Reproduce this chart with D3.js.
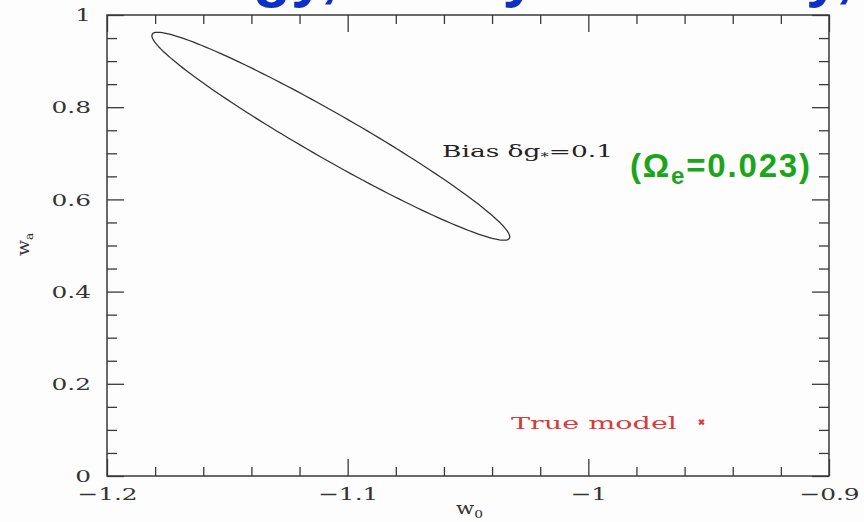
<!DOCTYPE html>
<html><head><meta charset="utf-8">
<script src="https://cdn.jsdelivr.net/npm/d3@7"></script>
<style>html,body{margin:0;padding:0;background:#fdfdfd;}svg{display:block;}</style>
</head><body>
<svg id="chart" width="864" height="522"></svg>
<script>
// ---- data ----
const xDomain = [-1.2, -0.9];
const yDomain = [0, 1];
const xMajorTicks = [-1.2, -1.1, -1.0, -0.9];
const xTickLabels = ["\u22121.2", "\u22121.1", "\u22121", "\u22120.9"];
const xMinorTicks = [-1.18,-1.16,-1.14,-1.12,-1.08,-1.06,-1.04,-1.02,-0.98,-0.96,-0.94,-0.92];
const yMajorTicks = [0, 0.2, 0.4, 0.6, 0.8, 1.0];
const yTickLabels = ["0", "0.2", "0.4", "0.6", "0.8", "1"];
const yMinorTicks = [0.05,0.1,0.15,0.25,0.3,0.35,0.45,0.5,0.55,0.65,0.7,0.75,0.85,0.9,0.95];
// confidence ellipse (Bias δg*=0.1): centre and half-axis vectors in data units
const ellipseCenter = [-1.107, 0.737];
const ellipseMajor = [0.0742, -0.2213];
const ellipseMinor = [-0.0047, -0.0433];
const trueModel = [-0.953, 0.117];
const titleWords = ["Cosmology,", "Theory", "Gravity,"];

// ---- drawing ----
const svg = d3.select("#chart");
const x = d3.scaleLinear().domain(xDomain).range([107, 829]);
const y = d3.scaleLinear().domain(yDomain).range([476, 15]);
const axisColor = "#3a3a3a";
const serif = "'DejaVu Serif', serif";

function widen(sel, f) {
  sel.each(function () {
    const n = this.getComputedTextLength();
    d3.select(this).attr("textLength", n * f).attr("lengthAdjust", "spacingAndGlyphs");
  });
}

// cut-off blue title at top (only descenders visible)
const titleX = [338, 537, 853];
svg.append("g").selectAll("text").data(titleWords).join("text")
  .attr("x", (d,i) => titleX[i]).attr("y", -5)
  .attr("text-anchor", "end")
  .attr("font-family", "'Liberation Sans', Arial, sans-serif")
  .attr("font-weight", "bold").attr("font-size", 62)
  .attr("fill", "#0d2fc4").text(d => d);

// frame
svg.append("rect").attr("x", x(xDomain[0])).attr("y", y(yDomain[1]))
  .attr("width", x(xDomain[1]) - x(xDomain[0])).attr("height", y(yDomain[0]) - y(yDomain[1]))
  .attr("fill", "none").attr("stroke", axisColor).attr("stroke-width", 1.5);

function styleAxis(g) {
  g.select(".domain").remove();
  g.selectAll(".tick line").attr("stroke", axisColor).attr("stroke-width", 1.3);
  g.selectAll(".tick text").attr("font-family", serif).attr("font-size", 17.5).attr("fill", "#333")
    .call(widen, 1.42);
}
const xFmt = (d) => xTickLabels[xMajorTicks.indexOf(d)];
const yFmt = (d) => yTickLabels[yMajorTicks.indexOf(d)];

svg.append("g").attr("transform", `translate(0,${y(0)})`)
  .call(d3.axisBottom(x).tickValues(xMajorTicks).tickFormat(xFmt).tickSize(-17).tickPadding(12)).call(styleAxis);
svg.append("g").attr("transform", `translate(0,${y(0)})`)
  .call(d3.axisBottom(x).tickValues(xMinorTicks).tickFormat("").tickSize(-9)).call(styleAxis);
svg.append("g").attr("transform", `translate(0,${y(1)})`)
  .call(d3.axisTop(x).tickValues(xMajorTicks).tickFormat("").tickSize(-17)).call(styleAxis);
svg.append("g").attr("transform", `translate(0,${y(1)})`)
  .call(d3.axisTop(x).tickValues(xMinorTicks).tickFormat("").tickSize(-9)).call(styleAxis);

svg.append("g").attr("transform", `translate(${x(-1.2)},0)`)
  .call(d3.axisLeft(y).tickValues(yMajorTicks).tickFormat(yFmt).tickSize(-17).tickPadding(16)).call(styleAxis);
svg.append("g").attr("transform", `translate(${x(-1.2)},0)`)
  .call(d3.axisLeft(y).tickValues(yMinorTicks).tickFormat("").tickSize(-10)).call(styleAxis);
svg.append("g").attr("transform", `translate(${x(-0.9)},0)`)
  .call(d3.axisRight(y).tickValues(yMajorTicks).tickFormat("").tickSize(-17)).call(styleAxis);
svg.append("g").attr("transform", `translate(${x(-0.9)},0)`)
  .call(d3.axisRight(y).tickValues(yMinorTicks).tickFormat("").tickSize(-10)).call(styleAxis);

// axis titles
const xt = svg.append("text").attr("x", 456).attr("y", 514)
  .attr("font-family", serif).attr("font-size", 17).attr("fill", "#333").text("w");
xt.append("tspan").attr("font-size", 11).attr("dy", 4).text("0");
widen(xt, 1.25);
const yt = svg.append("text").attr("transform", "translate(29,256) rotate(-90)")
  .attr("font-family", serif).attr("font-size", 17).attr("fill", "#333").text("w");
yt.append("tspan").attr("font-size", 11).attr("dy", 4).text("a");
widen(yt, 1.1);

// ellipse contour
const angles = d3.range(0, 361, 2).map(a => a * Math.PI / 180);
const pts = angles.map(t => [
  ellipseCenter[0] + ellipseMajor[0]*Math.cos(t) + ellipseMinor[0]*Math.sin(t),
  ellipseCenter[1] + ellipseMajor[1]*Math.cos(t) + ellipseMinor[1]*Math.sin(t)
]);
svg.append("path").datum(pts)
  .attr("d", d3.line().x(d => x(d[0])).y(d => y(d[1])).curve(d3.curveLinearClosed))
  .attr("fill", "none").attr("stroke", "#333").attr("stroke-width", 1.3);

// annotation texts
const bias = svg.append("text").attr("x", 442).attr("y", 157)
  .attr("font-family", serif).attr("font-size", 17.5).attr("fill", "#222")
  .attr("textLength", 171).attr("lengthAdjust", "spacingAndGlyphs");
bias.append("tspan").text("Bias \u03B4g");
bias.append("tspan").attr("font-size", 11).attr("dy", 3).text("*");
bias.append("tspan").attr("dy", -3).text("=0.1");

const om = svg.append("text").attr("x", 630).attr("y", 177)
  .attr("font-family", "'Liberation Sans', Arial, sans-serif").attr("font-weight", "bold")
  .attr("font-size", 33).attr("fill", "#1ba51b")
  .attr("textLength", 180).attr("lengthAdjust", "spacing");
om.append("tspan").text("(\u03A9");
om.append("tspan").attr("font-size", 24).attr("dy", 7).text("e");
om.append("tspan").attr("dy", -7).text("=0.023)");

// true model
svg.append("text").attr("x", 511).attr("y", 429)
  .attr("font-family", serif).attr("font-size", 17.5).attr("fill", "#d83a3a")
  .attr("textLength", 166).attr("lengthAdjust", "spacingAndGlyphs").text("True model");
svg.append("path").datum(trueModel)
  .attr("transform", d => `translate(${x(d[0])},${y(d[1])})`)
  .attr("d", d3.symbol(d3.symbolTimes, 16)())
  .attr("fill", "none").attr("stroke", "#d83a3a").attr("stroke-width", 2.2);
</script>
</body></html>
